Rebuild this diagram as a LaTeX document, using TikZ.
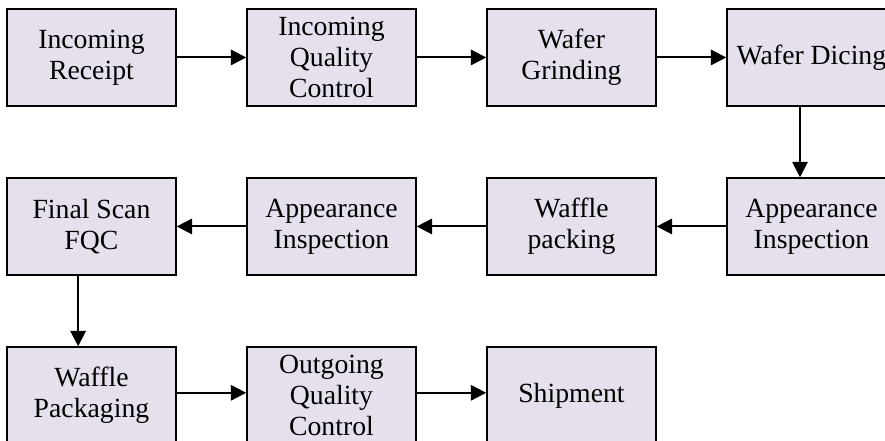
\documentclass[tikz,border=0pt]{standalone}
\usepackage{fontspec}
\setmainfont{Liberation Serif}
\usetikzlibrary{positioning, arrows.meta}

\definecolor{boxfill}{RGB}{229,224,236}

\begin{document}
\begin{tikzpicture}[node distance=126.75pt and 180pt,on grid,
    stage/.style={draw,line width=1.1pt,fill=boxfill,minimum width=126.75pt,
        minimum height=72.75pt,align=center,inner sep=0pt,
        font=\fontsize{20.8}{23.4}\selectfont},
    flow/.style={line width=1.5pt,-{Triangle[length=11.5pt,width=11.5pt]}}]

    \useasboundingbox (0,0) rectangle (663.75pt,-330.75pt);
    \clip (0,0) rectangle (663.75pt,-330.75pt);

    % first row
    \node[stage] (rcv) at (68.6pt,-43.1pt) {Incoming\\Receipt};
    \node[stage] (iqc) [right=of rcv] {Incoming\\Quality\\Control};
    \node[stage] (grind) [right=of iqc] {Wafer\\Grinding};
    \node[stage] (dice) [right=of grind] {Wafer Dicing};

    % second row
    \node[stage] (insp1) [below=of dice] {Appearance\\Inspection};
    \node[stage] (wpack) [left=of insp1] {Waffle\\packing};
    \node[stage] (insp2) [left=of wpack] {Appearance\\Inspection};
    \node[stage] (fqc) [left=of insp2] {Final Scan\\FQC};

    % third row
    \node[stage] (pkg) [below=of fqc] {Waffle\\Packaging};
    \node[stage] (oqc) [right=of pkg] {Outgoing\\Quality\\Control};
    \node[stage] (ship) [right=of oqc] {Shipment};

    \draw[flow] (rcv) -- (iqc);
    \draw[flow] (iqc) -- (grind);
    \draw[flow] (grind) -- (dice);
    \draw[flow] ([xshift=-8.6pt]dice.south) -- ([xshift=-8.6pt]insp1.north);
    \draw[flow] (insp1) -- (wpack);
    \draw[flow] (wpack) -- (insp2);
    \draw[flow] (insp2) -- (fqc);
    \draw[flow] ([xshift=-10pt]fqc.south) -- ([xshift=-10pt]pkg.north);
    \draw[flow] ([yshift=2pt]pkg.east) -- ([yshift=2pt]oqc.west);
    \draw[flow] ([yshift=2pt]oqc.east) -- ([yshift=2pt]ship.west);

\end{tikzpicture}
\end{document}
